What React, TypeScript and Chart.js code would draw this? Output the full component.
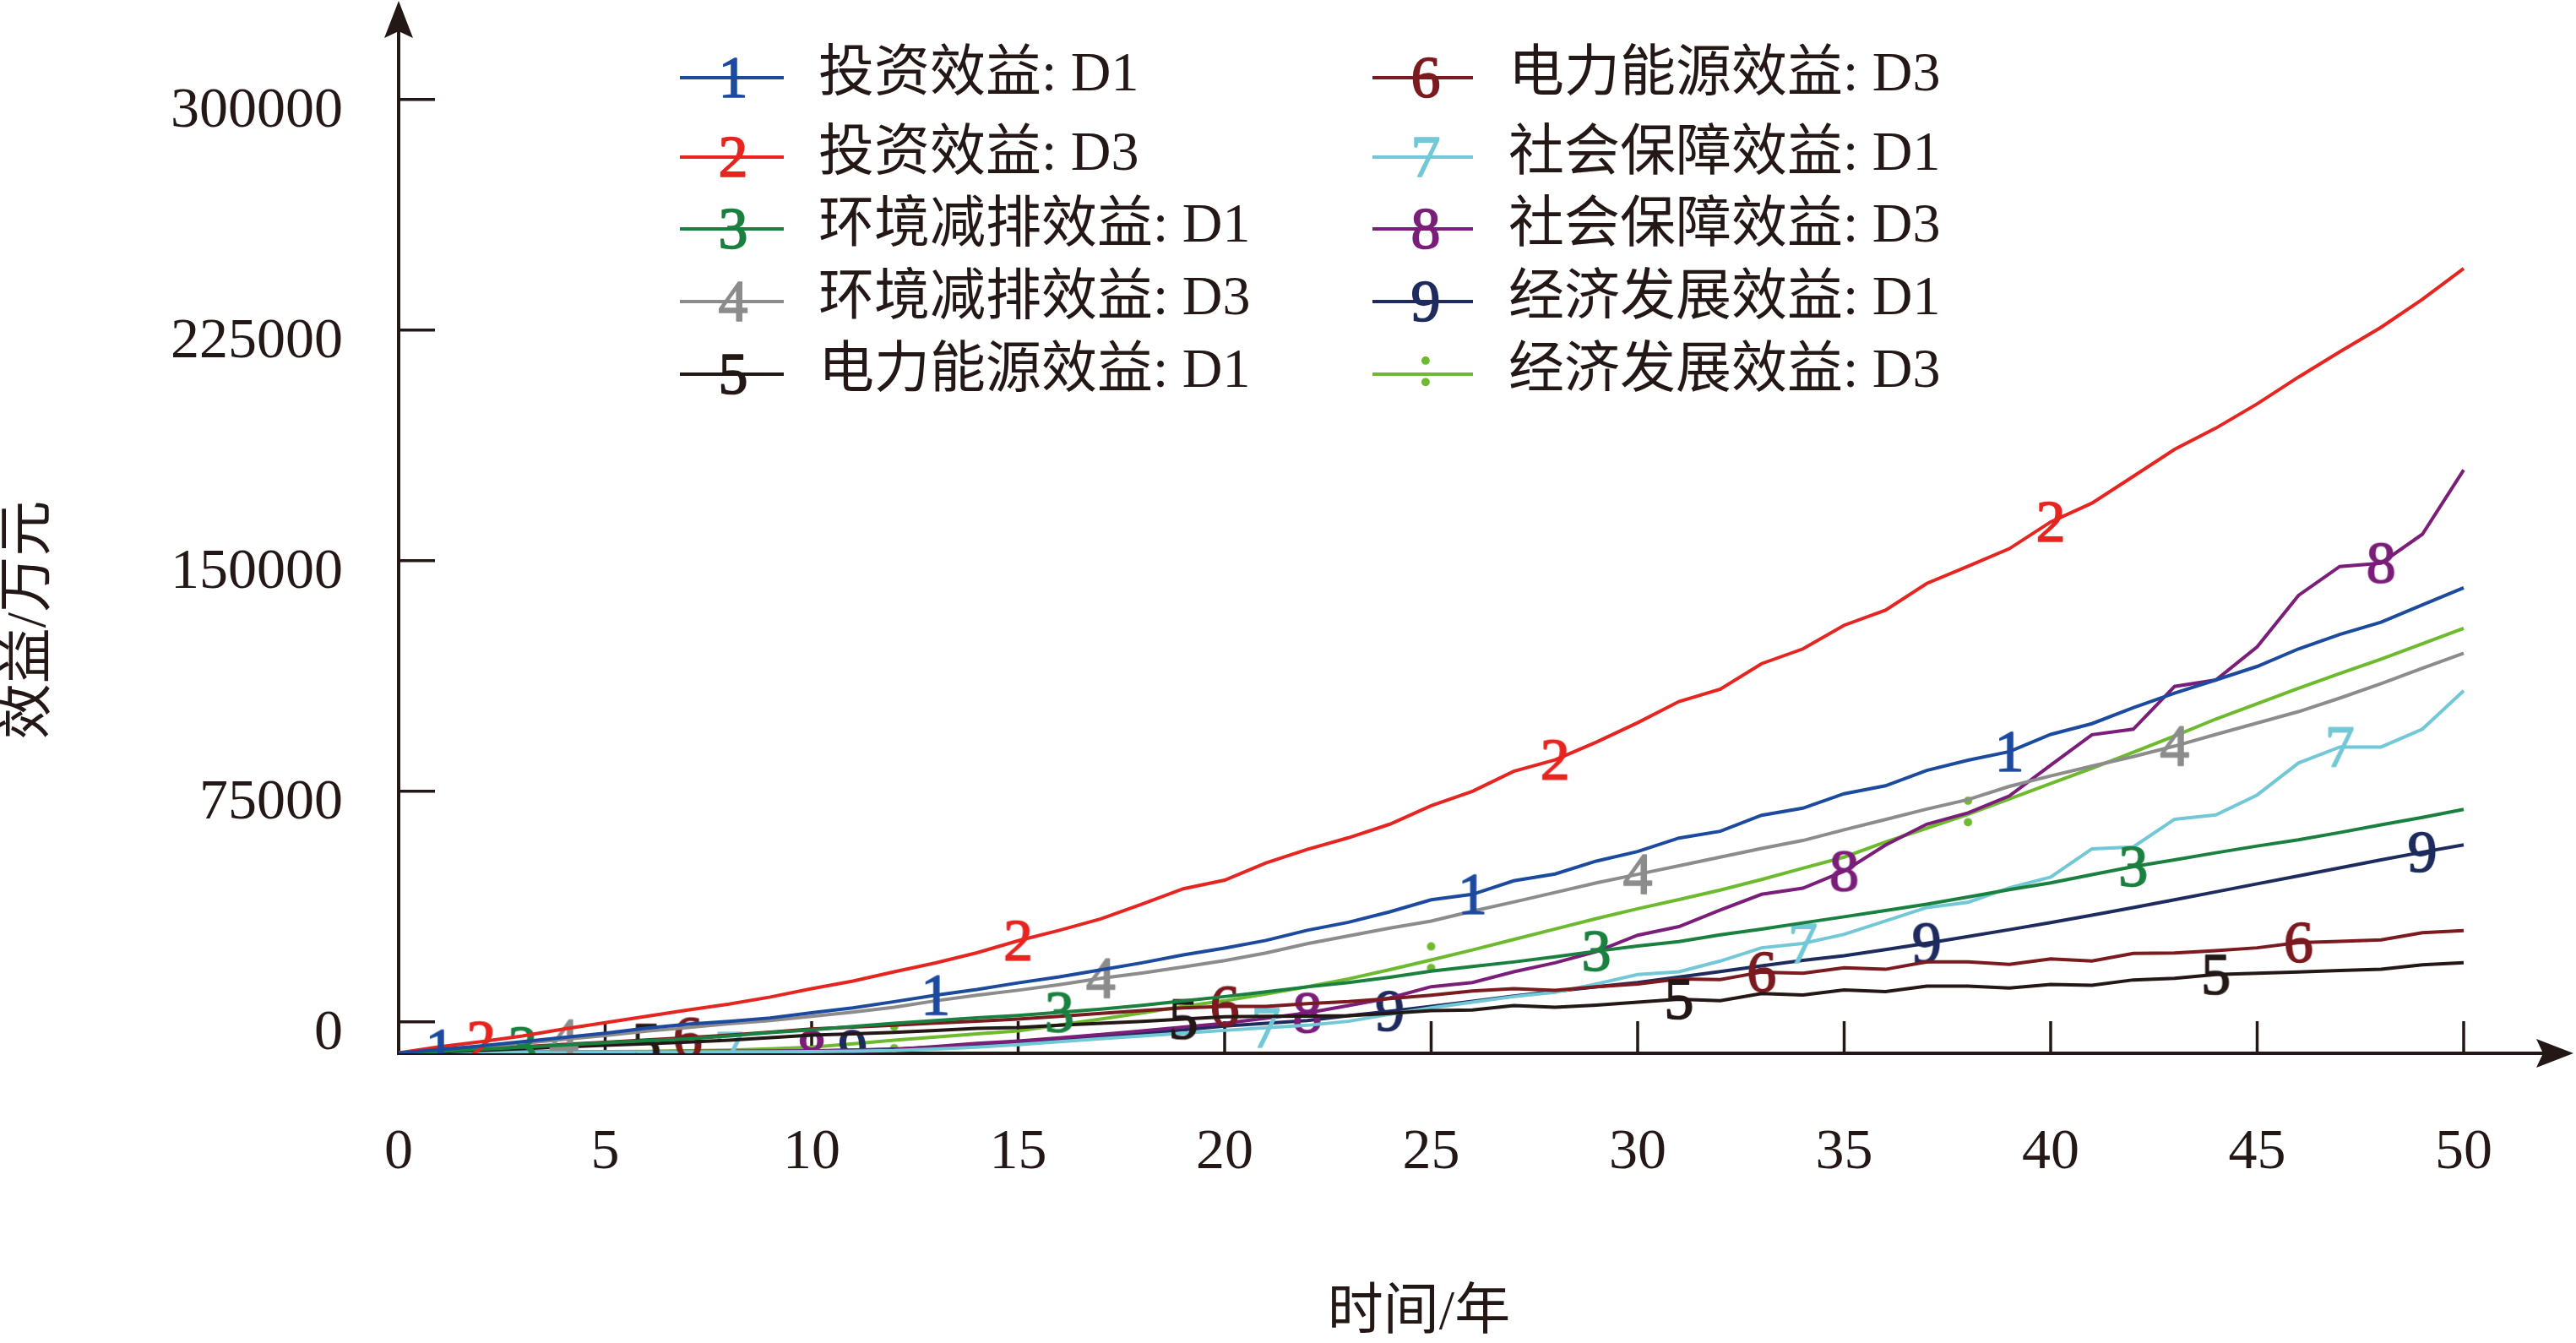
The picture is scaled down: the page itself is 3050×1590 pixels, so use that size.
import React, { useEffect, useRef } from 'react';
import { Chart, registerables } from 'chart.js';

Chart.register(...registerables);

// ---------- data ----------
const years = [
  0, 1, 2, 3, 4, 5, 6, 7, 8, 9, 10, 11, 12, 13, 14, 15, 16, 17, 18, 19, 20, 21, 22, 23, 24, 25,
  26, 27, 28, 29, 30, 31, 32, 33, 34, 35, 36, 37, 38, 39, 40, 41, 42, 43, 44, 45, 46, 47, 48, 49, 50,
];

const seriesNames = [
  '投资效益: D1',
  '投资效益: D3',
  '环境减排效益: D1',
  '环境减排效益: D3',
  '电力能源效益: D1',
  '电力能源效益: D3',
  '社会保障效益: D1',
  '社会保障效益: D3',
  '经济发展效益: D1',
  '经济发展效益: D3',
];

const investD1 = [
  -10100, -8970, -7780, -6410, -5040, -3660, -2010, -730, 200, 1300, 3000,
  4580, 6590, 8700, 10530, 12700, 14650, 16940, 19230, 21790, 24000,
  26500, 29800, 32400, 35800, 39700, 41500, 45900, 48100, 52300, 55400,
  59800, 62000, 67200, 69500, 74200, 76800, 81800, 85100, 87900, 93500,
  97000, 102200, 106900, 111200, 115600, 121300, 126000, 130000, 135600, 141200,
];
const investD3 = [
  -10100, -8060, -6410, -4580, -2290, -270, 1830, 3850, 5800, 8100, 10800,
  13300, 16300, 19200, 22500, 26400, 29800, 33500, 38300, 43300, 46100,
  51700, 56100, 59900, 64300, 70300, 75000, 81500, 85200, 91000, 97300,
  104200, 108200, 116500, 121300, 129000, 133900, 142600, 148200, 153900, 162600,
  168700, 177400, 186200, 193100, 201000, 209700, 217900, 225900, 235000, 245000,
];
const envD1 = [
  -10100, -9600, -8900, -8200, -7500, -6800, -6100, -5500, -4550, -3500, -2560,
  -1500, -460, 450, 1370, 2100, 3100, 4120, 5400, 6800, 8240,
  9800, 11400, 12800, 14500, 16500, 18000, 19500, 21200, 23000, 24700,
  26100, 28300, 30200, 32200, 34200, 36200, 38300, 40600, 43000, 45200,
  47900, 50500, 52700, 55000, 57200, 59200, 61600, 64100, 66500, 69100,
];
const envD3 = [
  -10100, -9160, -8060, -6960, -5680, -4400, -3020, -1830, -600, 460, 1830,
  3200, 4760, 6870, 8700, 10300, 12100, 14190, 15900, 17900, 19960,
  22430, 25460, 28000, 30500, 32800, 36000, 39000, 42100, 45200, 48000,
  50800, 53600, 56400, 59000, 62500, 65800, 69200, 72300, 76600, 80000,
  83200, 86300, 89700, 93500, 97200, 100900, 105300, 110000, 115000, 119900,
];
const powerD1 = [
  -10100, -9760, -9230, -8700, -8160, -7620, -7090, -6550, -5950, -5100, -4300,
  -3850, -3390, -2750, -2110, -1830, -1100, -460, 200, 920, 1650,
  1800, 1900, 2000, 2800, 3660, 3850, 5310, 4760, 5490, 6400,
  7380, 6920, 9200, 8740, 10380, 9840, 11660, 11660, 11020, 12200,
  11920, 13660, 14200, 15400, 15800, 16270, 16700, 17150, 18540, 19240,
];
const powerD3 = [
  -10100, -9560, -8820, -8080, -7340, -6600, -5860, -5120, -4300, -3300, -2290,
  -1700, -1100, -400, 270, 920, 1800, 2750, 3700, 4580, 5040,
  5040, 5950, 6600, 7600, 8700, 10070, 10810, 10260, 11450, 12300,
  14000, 13800, 16200, 15800, 17600, 17100, 19500, 19500, 18700, 20500,
  19800, 22300, 22400, 23200, 24100, 25800, 26200, 26700, 29000, 29700,
];
const socialD1 = [
  -10100, -9700, -9700, -9700, -9700, -9700, -9700, -9700, -9700, -9700, -9650,
  -9500, -9300, -8800, -8200, -7400, -6400, -5490, -4600, -3660, -2750,
  -1900, -1100, 200, 2500, 4580, 6410, 8240, 9620, 12360, 15400,
  16300, 19800, 24100, 25500, 28500, 32800, 37200, 38900, 43600, 47100,
  56300, 56900, 65900, 67300, 73800, 84200, 89400, 89400, 95200, 107700,
];
const socialD3 = [
  -10100, -9700, -9700, -9700, -9700, -9700, -9650, -9600, -9550, -9500, -9400,
  -9200, -8970, -8000, -7000, -6230, -5200, -4120, -2900, -1650, -460,
  1200, 2930, 5300, 7800, 11450, 12820, 16300, 19230, 22890, 28200,
  31000, 36400, 41500, 43500, 49000, 57500, 64300, 68000, 73500, 83500,
  93400, 95200, 109100, 111200, 122000, 138700, 148100, 149200, 158600, 179500,
];
const econD1 = [
  -10100, -9700, -9700, -9700, -9700, -9700, -9700, -9650, -9600, -9550, -9500,
  -9200, -8800, -8200, -7600, -7000, -6000, -5000, -3800, -2560, -1370,
  -450, 460, 2000, 3500, 5040, 6700, 8420, 9900, 11450, 12800,
  14600, 16400, 18200, 20000, 21500, 23500, 25600, 27800, 30000, 32300,
  34700, 37200, 39700, 42300, 44900, 47500, 50100, 52700, 55200, 57600,
];
const econD3 = [
  -10100, -9800, -9800, -9750, -9700, -9650, -9550, -9400, -9150, -8750, -8240,
  -7100, -5950, -4900, -3900, -2900, -1000, 920, 2900, 5040, 6870,
  9100, 11450, 14000, 17000, 20150, 23400, 26800, 30200, 33600, 36800,
  39800, 42900, 46300, 50000, 53600, 58500, 63000, 67500, 72500, 77500,
  82500, 87700, 93000, 98500, 103500, 108500, 113300, 118000, 123000, 128000,
];

const seriesValues = [
  investD1, investD3, envD1, envD3, powerD1, powerD3, socialD1, socialD3, econD1, econD3,
];

const xTicks = [0, 5, 10, 15, 20, 25, 30, 35, 40, 45, 50];
const yTicks = [0, 75000, 150000, 225000, 300000];

// ---------- styles ----------
const COLORS = [
  '#1B4A9E', '#E62520', '#1A8040', '#8C8C8C', '#231815',
  '#7B1A1F', '#72C8D6', '#7A1E79', '#1E2B5E', '#6DBA2E',
];
const MARKER_SYMBOLS = ['1', '2', '3', '4', '5', '6', '7', '8', '9', ':'];
const MARKER_INDEX = [
  [1, 13, 26, 39], [2, 15, 28, 40], [3, 16, 29, 42], [4, 17, 30, 43], [6, 19, 31, 44],
  [7, 20, 33, 46], [8, 21, 34, 47], [10, 22, 35, 48], [11, 24, 37, 49], [12, 25, 38],
];
const TEXT = '#231815';
const SERIF = '"Liberation Serif", "Times New Roman", serif';
const MIXED = '"Liberation Serif", "Noto Sans CJK SC", serif';

const W = 3050;
const H = 1590;
const X_MAX = 52.638;
const Y_MIN = -10200;
const Y_MAX = 331500;

function makeMarker(sym: string, color: string): HTMLCanvasElement {
  const c = document.createElement('canvas');
  c.width = 64;
  c.height = 100;
  const g = c.getContext('2d')!;
  g.fillStyle = color;
  g.strokeStyle = color;
  g.lineWidth = 1.6;
  g.lineJoin = 'round';
  g.font = `70px ${SERIF}`;
  g.textAlign = 'center';
  g.textBaseline = 'alphabetic';
  const base = sym === ':' ? 50 + 13 : 50 + 23;
  g.fillText(sym, 32, base);
  g.strokeText(sym, 32, base);
  return c;
}

const LEGEND_COLS = [
  { x0: 805, x1: 928, mx: 868, tx: 969 },
  { x0: 1625, x1: 1744, mx: 1688, tx: 1786 },
];
const LEGEND_ROWS = [92, 186, 271, 357, 443];

function arrowHead(ctx: CanvasRenderingContext2D, tipX: number, tipY: number, dir: 'up' | 'right') {
  ctx.beginPath();
  if (dir === 'up') {
    ctx.moveTo(tipX, tipY);
    ctx.lineTo(tipX - 17, tipY + 44);
    ctx.lineTo(tipX, tipY + 36);
    ctx.lineTo(tipX + 17, tipY + 44);
  } else {
    ctx.moveTo(tipX, tipY);
    ctx.lineTo(tipX - 44, tipY - 17);
    ctx.lineTo(tipX - 36, tipY);
    ctx.lineTo(tipX - 44, tipY + 17);
  }
  ctx.closePath();
  ctx.fill();
}

export default function App() {
  const ref = useRef<HTMLCanvasElement | null>(null);

  useEffect(() => {
    if (!ref.current) return;
    const markers = MARKER_SYMBOLS.map((s, i) => makeMarker(s, COLORS[i]));

    const overlay = {
      id: 'overlay',
      beforeDatasetsDraw(chart: any) {
        const { ctx, chartArea, scales } = chart;
        const xs = scales.x;
        const ys = scales.y;
        const ax = chartArea.left;
        const ay = chartArea.bottom;
        ctx.save();
        ctx.strokeStyle = TEXT;
        ctx.fillStyle = TEXT;
        ctx.lineWidth = 4;
        ctx.lineCap = 'butt';
        ctx.beginPath();
        ctx.moveTo(ax, ay);
        ctx.lineTo(ax, 30);
        ctx.moveTo(ax - 2, ay);
        ctx.lineTo(W - 30, ay);
        ctx.stroke();
        ctx.lineWidth = 3.5;
        ctx.beginPath();
        for (const v of xTicks) {
          if (v === 0) continue;
          const px = xs.getPixelForValue(v);
          ctx.moveTo(px, ay);
          ctx.lineTo(px, ay - 38);
        }
        for (const v of yTicks) {
          const py = ys.getPixelForValue(v);
          ctx.moveTo(ax + 2, py);
          ctx.lineTo(ax + 43, py);
        }
        ctx.stroke();
        arrowHead(ctx, ax, 1, 'up');
        arrowHead(ctx, W - 3, ay, 'right');
        ctx.restore();
      },
      afterDraw(chart: any) {
        const { ctx } = chart;
        ctx.save();
        chart.data.datasets.forEach((ds: any, i: number) => {
          const col = LEGEND_COLS[i < 5 ? 0 : 1];
          const y = LEGEND_ROWS[i % 5];
          ctx.strokeStyle = ds.borderColor;
          ctx.lineWidth = 4;
          ctx.beginPath();
          ctx.moveTo(col.x0, y);
          ctx.lineTo(col.x1, y);
          ctx.stroke();
          const m = markers[i];
          ctx.drawImage(m, col.mx - m.width / 2, y - m.height / 2);
          ctx.fillStyle = TEXT;
          ctx.font = `66px ${MIXED}`;
          ctx.textAlign = 'left';
          ctx.textBaseline = 'middle';
          ctx.fillText(ds.label, col.tx, y - 2);
        });
        ctx.fillStyle = TEXT;
        ctx.font = `66px ${MIXED}`;
        ctx.textAlign = 'center';
        ctx.textBaseline = 'middle';
        ctx.fillText('时间/年', 1680, 1556);
        ctx.translate(36, 734);
        ctx.rotate(-Math.PI / 2);
        ctx.fillText('效益/万元', 0, 0);
        ctx.restore();
      },
    };

    const chart = new Chart(ref.current, {
      type: 'line',
      data: {
        datasets: seriesValues.map((vals, i) => ({
          label: seriesNames[i],
          data: years.map((x, j) => ({ x, y: vals[j] })),
          borderColor: COLORS[i],
          backgroundColor: COLORS[i],
          borderWidth: 4,
          tension: 0,
          fill: false,
          pointStyle: (c: any) => (MARKER_INDEX[i].includes(c.dataIndex) ? markers[i] : false),
          pointRadius: (c: any) => (MARKER_INDEX[i].includes(c.dataIndex) ? 10 : 0),
          pointHoverRadius: 0,
        })),
      },
      options: {
        animation: false,
        responsive: false,
        events: [],
        layout: { padding: { top: 3, right: 4, left: 0, bottom: 0 } },
        plugins: { legend: { display: false }, tooltip: { enabled: false } },
        scales: {
          x: {
            type: 'linear',
            min: 0,
            max: X_MAX,
            grid: { display: false, drawTicks: false },
            border: { display: false },
            afterBuildTicks: (s: any) => {
              s.ticks = xTicks.map((v) => ({ value: v }));
            },
            afterFit: (s: any) => {
              s.height = 343;
              s.paddingLeft = 0;
              s.paddingRight = 0;
            },
            ticks: {
              autoSkip: false,
              maxRotation: 0,
              padding: 77,
              color: TEXT,
              font: { family: SERIF, size: 68 },
              callback: (v: any) => String(v),
            },
          },
          y: {
            type: 'linear',
            min: Y_MIN,
            max: Y_MAX,
            grid: { display: false, drawTicks: false },
            border: { display: false },
            afterBuildTicks: (s: any) => {
              s.ticks = yTicks.map((v) => ({ value: v }));
            },
            afterFit: (s: any) => {
              s.width = 472;
              s.paddingTop = 0;
              s.paddingBottom = 0;
            },
            ticks: {
              autoSkip: false,
              padding: 66,
              labelOffset: 14,
              color: TEXT,
              font: { family: SERIF, size: 68 },
              callback: (v: any) => String(v),
            },
          },
        },
      },
      plugins: [overlay],
    } as any);

    return () => chart.destroy();
  }, []);

  return (
    <div style={{ position: 'fixed', left: 0, top: 0, width: W, height: H, background: '#ffffff' }}>
      <canvas ref={ref} width={W} height={H} style={{ display: 'block', width: W, height: H }} />
    </div>
  );
}
